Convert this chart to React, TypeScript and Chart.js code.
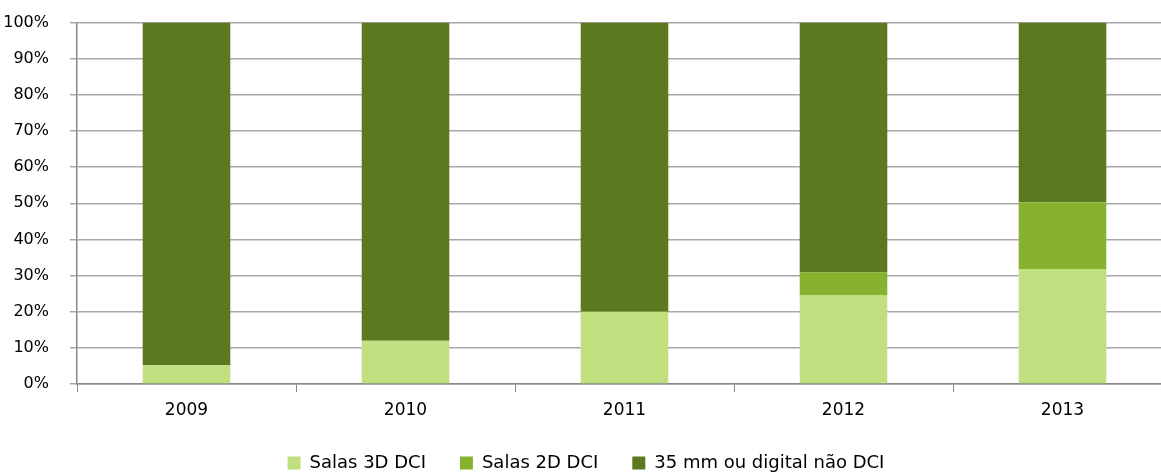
import React, { useEffect, useRef } from "react";
import { Chart, registerables } from "chart.js";

Chart.register(...registerables);

const categories = ["2009", "2010", "2011", "2012", "2013"];
const salas3D = [5.2, 12.0, 20.0, 24.6, 31.8];
const salas2D = [0, 0, 0, 6.3, 18.5];
const nao35mm = [94.8, 88.0, 80.0, 69.1, 49.7];
const seriesNames = ["Salas 3D DCI", "Salas 2D DCI", "35 mm ou digital não DCI"];
const colors = ["#C0DF7E", "#86B22F", "#5B7A1F"];

export default function App() {
  const ref = useRef<HTMLCanvasElement | null>(null);
  useEffect(() => {
    document.body.style.margin = "0";
    document.body.style.overflow = "hidden";
    const family = "'DejaVu Sans', sans-serif";
    const xFont = { family, size: 17, lineHeight: 1 };
    const yFont = { family, size: 16, lineHeight: 0.2 };
    const legendFont = { family, size: 18 };
    const chart = new Chart(ref.current!, {
      type: "bar",
      data: {
        labels: categories,
        datasets: [salas3D, salas2D, nao35mm].map((d, i) => ({
          label: seriesNames[i],
          data: d,
          backgroundColor: colors[i],
          borderWidth: 0,
          barPercentage: 0.8,
          categoryPercentage: 0.5,
        })),
      },
      options: {
        animation: false,
        responsive: false,
        maintainAspectRatio: false,
        layout: { padding: { top: 0, left: 0, right: 0, bottom: 0 } },
        plugins: {
          tooltip: { enabled: false },
          legend: {
            position: "bottom",
            labels: {
              font: legendFont,
              color: "#000",
              boxWidth: 13,
              boxHeight: 13,
              padding: 34,
            },
          },
        },
        scales: {
          x: {
            stacked: true,
            offset: true,
            afterFit: (s: any) => { s.height = 36; },
            grid: {
              offset: true,
              drawOnChartArea: false,
              drawTicks: true,
              tickLength: 8,
              color: "#888",
            },
            border: { color: "#888", width: 1.5 },
            ticks: { font: xFont, color: "#000", padding: 10 },
          },
          y: {
            stacked: true,
            min: 0,
            max: 100,
            afterFit: (s: any) => { s.width = 77; },
            grid: { color: "#A8A8A8", lineWidth: 1.5, tickLength: 7 },
            border: { color: "#888", width: 1.5 },
            ticks: {
              stepSize: 10,
              font: yFont,
              color: "#000",
              padding: 21,
              callback: (v: any) => v + "%",
            },
          },
        },
      },
    });
    return () => chart.destroy();
  }, []);
  return (
    <div style={{ position: "fixed", left: 0, top: 0, width: 1161, height: 475, overflow: "hidden" }}>
      <canvas ref={ref} width={1172} height={482} style={{ display: "block" }} />
    </div>
  );
}
